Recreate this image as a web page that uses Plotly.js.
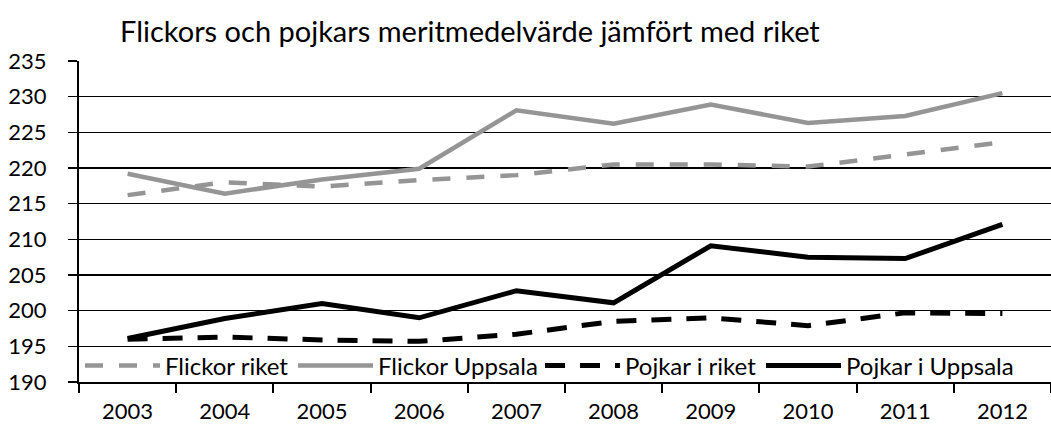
<!DOCTYPE html>
<html>
<head>
<meta charset="utf-8">
<script src="https://cdn.plot.ly/plotly-3.0.1.min.js"></script>
<style>html,body{margin:0;padding:0;background:#fff;}#chart{width:1051px;height:427px;}</style>
</head>
<body>
<div id="chart"></div>
<script>
const years = ["2003","2004","2005","2006","2007","2008","2009","2010","2011","2012"];
const flickorRiket = [216.2, 218.0, 217.4, 218.3, 219.0, 220.5, 220.5, 220.2, 221.9, 223.6];
const flickorUppsala = [219.2, 216.4, 218.4, 219.9, 228.1, 226.2, 228.9, 226.3, 227.3, 230.5];
const pojkarRiket = [196.0, 196.3, 195.9, 195.7, 196.7, 198.5, 199.0, 197.9, 199.7, 199.6];
const pojkarUppsala = [196.1, 198.9, 201.0, 199.0, 202.8, 201.1, 209.1, 207.5, 207.3, 212.1];
const seriesNames = ["Flickor riket", "Flickor Uppsala", "Pojkar i riket", "Pojkar i Uppsala"];
const yTicks = [190,195,200,205,210,215,220,225,230,235];

const FONT = "Lato, 'Open Sans', sans-serif";
const traces = [
  {x: years, y: flickorRiket, name: seriesNames[0], type: "scatter", mode: "lines", legend: "legend",
   line: {color: "#959595", width: 4.5, dash: "18px,16px"}},
  {x: years, y: flickorUppsala, name: seriesNames[1], type: "scatter", mode: "lines", legend: "legend2",
   line: {color: "#959595", width: 4.5}},
  {x: years, y: pojkarRiket, name: seriesNames[2], type: "scatter", mode: "lines", legend: "legend3",
   line: {color: "#000000", width: 5, dash: "20px,15px"}},
  {x: years, y: pojkarUppsala, name: seriesNames[3], type: "scatter", mode: "lines", legend: "legend4",
   line: {color: "#000000", width: 5}}
];

function leg(px) {
  return {orientation: "h", x: (px - 79) / 972, xanchor: "left", y: -0.02, yanchor: "bottom",
          bgcolor: "rgba(0,0,0,0)", font: {family: FONT, size: 24, color: "#000"},
          itemwidth: 75, tracegroupgap: 0};
}

const layout = {
  width: 1051, height: 427,
  margin: {l: 79, r: 0, t: 61, b: 45, pad: 0},
  paper_bgcolor: "#fff", plot_bgcolor: "#fff",
  font: {family: FONT, color: "#000", size: 22},
  title: {text: "Flickors och pojkars meritmedelvärde jämfört med riket",
          x: 120/1051, xanchor: "left", xref: "container",
          y: 1 - 32/427, yanchor: "middle", yref: "container",
          font: {family: FONT, size: 29, color: "#000"}},
  showlegend: true,
  legend: leg(80), legend2: leg(293), legend3: leg(540), legend4: leg(761),
  xaxis: {type: "category", range: [-0.5, 9.5], tickson: "boundaries", ticks: "outside", ticklen: 9,
          tickwidth: 2, tickcolor: "#000", showline: true, linecolor: "#000", linewidth: 2,
          showgrid: false, zeroline: false, ticklabelstandoff: 9,
          tickfont: {family: FONT, size: 22, color: "#000"}, fixedrange: true},
  yaxis: {range: [190, 235], tickvals: yTicks, ticks: "outside", ticklen: 9,
          tickwidth: 1.5, tickcolor: "#000", showline: true, linecolor: "#000", linewidth: 2,
          showgrid: true, gridcolor: "#000", gridwidth: 1.5, zeroline: false,
          ticklabelstandoff: 17,
          tickfont: {family: FONT, size: 22, color: "#000"}, fixedrange: true}
};

Plotly.newPlot("chart", traces, layout, {displayModeBar: false, staticPlot: true});
</script>
</body>
</html>
